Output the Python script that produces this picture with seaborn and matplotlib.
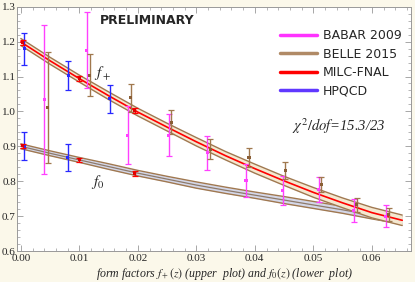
import numpy as np
import pandas as pd
import matplotlib
matplotlib.use("Agg")
import matplotlib.pyplot as plt
from matplotlib.lines import Line2D
from matplotlib.ticker import MultipleLocator
import seaborn as sns

# ---- data ----
band_z = [0.0, 0.005, 0.01, 0.015, 0.02, 0.025, 0.03, 0.035, 0.04, 0.045, 0.05, 0.055, 0.06, 0.0652]
fplus_center = [1.199, 1.145, 1.094, 1.045, 0.998, 0.955, 0.913, 0.873, 0.836, 0.801, 0.768, 0.738, 0.710, 0.688]
fplus_halfwidth = [0.010, 0.010, 0.010, 0.011, 0.011, 0.011, 0.012, 0.012, 0.013, 0.013, 0.014, 0.014, 0.015, 0.015]
fzero_center = [0.900, 0.880, 0.861, 0.842, 0.823, 0.806, 0.789, 0.774, 0.760, 0.746, 0.732, 0.718, 0.703, 0.688]
fzero_halfwidth = [0.007, 0.007, 0.007, 0.008, 0.008, 0.008, 0.009, 0.009, 0.009, 0.010, 0.010, 0.010, 0.011, 0.011]

babar_z = [0.0040, 0.0113, 0.0183, 0.0253, 0.0319, 0.0385, 0.0448, 0.0509, 0.0569, 0.0624]
babar_f = [1.034, 1.175, 0.932, 0.932, 0.881, 0.802, 0.773, 0.775, 0.715, 0.700]
babar_err = [0.214, 0.109, 0.083, 0.060, 0.049, 0.046, 0.041, 0.036, 0.033, 0.032]

belle_z = [0.0046, 0.0118, 0.0188, 0.0257, 0.0324, 0.0390, 0.0452, 0.0514, 0.0574, 0.0629]
belle_f = [1.011, 1.104, 1.039, 0.969, 0.892, 0.868, 0.830, 0.791, 0.732, 0.705]
belle_err = [0.160, 0.060, 0.040, 0.034, 0.028, 0.026, 0.024, 0.022, 0.019, 0.018]

milc_z = [0.0003, 0.0100, 0.0195, 0.0003, 0.0100, 0.0195]
milc_f = [1.198, 1.094, 1.002, 0.902, 0.861, 0.823]
milc_err = [0.008, 0.008, 0.008, 0.006, 0.006, 0.007]

hpqcd_z = [0.0006, 0.0081, 0.0152, 0.0006, 0.0080]
hpqcd_f = [1.180, 1.103, 1.036, 0.900, 0.868]
hpqcd_err = [0.046, 0.042, 0.040, 0.040, 0.039]

legend_labels = ["BABAR 2009", "BELLE 2015", "MILC-FNAL", "HPQCD"]
xticks = [0.00, 0.01, 0.02, 0.03, 0.04, 0.05, 0.06]
yticks = [0.6, 0.7, 0.8, 0.9, 1.0, 1.1, 1.2, 1.3]

# ---- styling ----
sns.set_theme(style="ticks")
plt.rcParams['font.family'] = ['Liberation Serif', 'DejaVu Serif']
plt.rcParams['mathtext.fontset'] = 'stix'

fig = plt.figure(figsize=(4.15, 2.82), dpi=100, facecolor="#FBF8EA")
ax = fig.add_axes([17.3 / 415, 1 - 251 / 282, (411 - 17.3) / 415, (251 - 6.7) / 282])
ax.set_facecolor("white")

edge_brown = "#A07850"
bands = pd.DataFrame({"z": band_z, "fp": fplus_center, "fpw": fplus_halfwidth,
                      "f0": fzero_center, "f0w": fzero_halfwidth})

# f0 band
lo0 = bands["f0"] - bands["f0w"]
hi0 = bands["f0"] + bands["f0w"]
ax.fill_between(bands["z"], lo0, hi0, color="#D4D7E8", lw=0, zorder=1)
for yy in (lo0, hi0):
    sns.lineplot(x=bands["z"], y=yy, ax=ax, color=edge_brown, lw=1.0, zorder=2)
sns.lineplot(data=bands, x="z", y="f0", ax=ax, color="#8E7A6A", lw=0.9, zorder=2)

# f+ band
lop = bands["fp"] - bands["fpw"]
hip = bands["fp"] + bands["fpw"]
ax.fill_between(bands["z"], lop, hip, color="#F4E8D0", lw=0, zorder=3)
for yy in (lop, hip):
    sns.lineplot(x=bands["z"], y=yy, ax=ax, color=edge_brown, lw=1.0, zorder=4)
sns.lineplot(data=bands, x="z", y="fp", ax=ax, color="#FF0000", lw=1.2, zorder=5)

def errs(zs, fs, es, color, mcolor, z):
    ax.errorbar(zs, fs, yerr=es, fmt="none", ecolor=color, elinewidth=1.0,
                capsize=2.0, capthick=0.9, zorder=z)
    sns.scatterplot(x=zs, y=fs, ax=ax, color=mcolor, marker="s", s=5,
                    edgecolor="none", zorder=z + 0.5, legend=False)

errs(babar_z, babar_f, babar_err, "#FF40FF", "#FF40FF", 6)
errs(belle_z, belle_f, belle_err, "#A0784E", "#8A5E36", 6)
errs(hpqcd_z, hpqcd_f, hpqcd_err, "#2828FF", "#2828FF", 7)
errs(milc_z, milc_f, milc_err, "#FF0000", "#E00000", 8)

ax.set_xlim(-0.0006, 0.0667)
ax.set_ylim(0.6, 1.3)
ax.set_xticks(xticks)
ax.set_xticklabels([f"{t:.2f}" for t in xticks])
ax.set_yticks(yticks)
ax.set_yticklabels([f"{t:.1f}" for t in yticks])
ax.xaxis.set_minor_locator(MultipleLocator(0.002))
ax.yaxis.set_minor_locator(MultipleLocator(0.02))
ax.tick_params(which="both", direction="in", top=True, right=True, color="#999999",
               labelsize=8, pad=1.5)
ax.tick_params(axis="y", pad=1.0)
ax.tick_params(axis="x", pad=2.5)
ax.tick_params(which="major", length=4, width=0.6)
ax.tick_params(which="minor", length=2, width=0.5)
for sp in ax.spines.values():
    sp.set_color("#999999")
    sp.set_linewidth(0.7)
ax.set_xlabel("")
ax.set_ylabel("")

# texts
ax.text(0.21, 0.945, "PRELIMINARY", transform=ax.transAxes, ha="left", va="center",
        fontsize=9, fontweight="bold", family=["DejaVu Sans"])
ax.text(0.817, 0.51, r"$\chi^2/dof$=15.3/23", transform=ax.transAxes, ha="center",
        va="center", fontsize=10.5, style="italic")
ax.text(0.0140, 1.110, r"$f_+$", fontsize=11, ha="center", va="center")
ax.text(0.0132, 0.798, r"$f_0$", fontsize=11, ha="center", va="center")
fig.text(0.54, 0.028, r"form factors $f_+(z)$ (upper  plot) and $f_0(z)$ (lower  plot)",
         ha="center", va="center", fontsize=8.6, style="italic")

handles = [Line2D([0], [0], color=c, lw=2.5) for c in
           ["#FF33FF", "#B08A66", "#FF0000", "#6038FF"]]
leg = ax.legend(handles, legend_labels, loc="upper right", bbox_to_anchor=(1.005, 0.955),
                frameon=False, handlelength=2.9, handletextpad=0.5, labelspacing=0.45,
                prop={"family": "DejaVu Sans", "size": 9})

fig.savefig("out.png", dpi=100, facecolor=fig.get_facecolor())
